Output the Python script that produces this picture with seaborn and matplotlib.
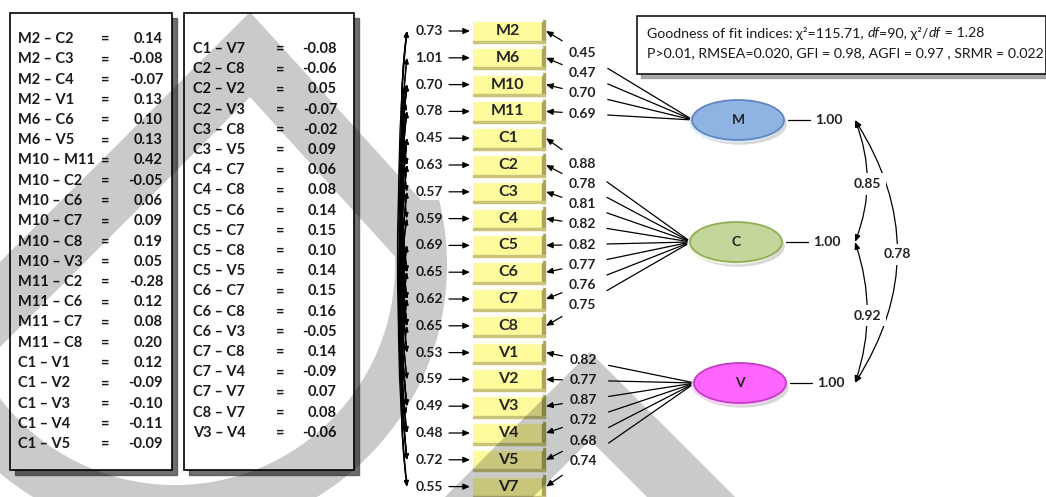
import numpy as np
import pandas as pd
import matplotlib
matplotlib.use("Agg")
import matplotlib.pyplot as plt
import seaborn as sns
from matplotlib.patches import Rectangle, Ellipse, FancyArrowPatch

# indicadores (de cima para baixo)
items = ['M2', 'M6', 'M10', 'M11', 'C1', 'C2', 'C3', 'C4', 'C5', 'C6', 'C7', 'C8',
         'V1', 'V2', 'V3', 'V4', 'V5', 'V7']
error_var = [0.73, 1.01, 0.70, 0.78, 0.45, 0.63, 0.57, 0.59, 0.69, 0.65, 0.62, 0.65,
             0.53, 0.59, 0.49, 0.48, 0.72, 0.55]
loadings = [0.45, 0.47, 0.70, 0.69, 0.88, 0.78, 0.81, 0.82, 0.82, 0.77, 0.76, 0.75,
            0.82, 0.77, 0.87, 0.72, 0.68, 0.74]

factors = ['M', 'C', 'V']
factor_var = [1.00, 1.00, 1.00]
factor_corr_pairs = [('M', 'C'), ('C', 'V'), ('M', 'V')]
factor_corr = [0.85, 0.92, 0.78]

# covariancias entre erros
cov1_pairs = [('M2', 'C2'), ('M2', 'C3'), ('M2', 'C4'), ('M2', 'V1'), ('M6', 'C6'),
              ('M6', 'V5'), ('M10', 'M11'), ('M10', 'C2'), ('M10', 'C6'), ('M10', 'C7'),
              ('M10', 'C8'), ('M10', 'V3'), ('M11', 'C2'), ('M11', 'C6'), ('M11', 'C7'),
              ('M11', 'C8'), ('C1', 'V1'), ('C1', 'V2'), ('C1', 'V3'), ('C1', 'V4'),
              ('C1', 'V5')]
cov1_vals = [0.14, -0.08, -0.07, 0.13, 0.10, 0.13, 0.42, -0.05, 0.06, 0.09, 0.19, 0.05,
             -0.28, 0.12, 0.08, 0.20, 0.12, -0.09, -0.10, -0.11, -0.09]
cov2_pairs = [('C1', 'V7'), ('C2', 'C8'), ('C2', 'V2'), ('C2', 'V3'), ('C3', 'C8'),
              ('C3', 'V5'), ('C4', 'C7'), ('C4', 'C8'), ('C5', 'C6'), ('C5', 'C7'),
              ('C5', 'C8'), ('C5', 'V5'), ('C6', 'C7'), ('C6', 'C8'), ('C6', 'V3'),
              ('C7', 'C8'), ('C7', 'V4'), ('C7', 'V7'), ('C8', 'V7'), ('V3', 'V4')]
cov2_vals = [-0.08, -0.06, 0.05, -0.07, -0.02, 0.09, 0.06, 0.08, 0.14, 0.15, 0.10, 0.14,
             0.15, 0.16, -0.05, 0.14, -0.09, 0.07, 0.08, -0.06]

fit_line1 = [('Goodness of fit indices: χ²=115.71, ', 'normal'), ('df', 'italic'),
             ('=90, χ²/', 'normal'), ('df', 'italic'), (' = 1.28', 'normal')]
fit_line2 = 'P>0.01, RMSEA=0.020, GFI = 0.98, AGFI = 0.97 , SRMR = 0.022'

W, H = 1046, 497
FONT = ['Lato', 'DejaVu Sans']
Y0, DY = 31, 26.8
BOX_X0, BOX_X1 = 473, 545
factor_pos = {'M': (738, 120), 'C': (736, 242), 'V': (740, 383)}
factor_col = {'M': ('#8fb4e3', '#5f86bf', '#dcecf8'),
              'C': ('#c3d69b', '#93ad55', '#f0f5e2'),
              'V': ('#ff66ff', '#c43cc4', '#f9d2f9')}
ELL_W, ELL_H = 92, 40


def item_y(name):
    return Y0 + DY * items.index(name)


def fmt(v):
    return '{:.2f}'.format(v)


def _tabela(ax, x0, x1, y_first, dy, pairs, vals, xl, xeq, xv):
    ax.add_patch(Rectangle((x0 + 5, 18), x1 - x0, 457, color='#555555', alpha=0.85, zorder=1))
    ax.add_patch(Rectangle((x0, 13), x1 - x0, 457, facecolor='white', edgecolor='black', lw=1.2, zorder=2))
    for i, ((a, b), v) in enumerate(zip(pairs, vals)):
        y = y_first + dy * i
        kw = dict(fontsize=10.5, fontweight='bold', family=FONT, va='center', zorder=3, color='#1a1a1a')
        ax.text(xl, y, a + ' – ' + b, ha='left', **kw)
        ax.text(xeq, y, '=', ha='center', **kw)
        ax.text(xv, y, fmt(v), ha='right', **kw)


def _caixas_itens(ax):
    for i, name in enumerate(items):
        y = Y0 + DY * i
        top = y - 11.5
        ax.add_patch(Rectangle((BOX_X0, top), BOX_X1 - BOX_X0, 23, facecolor='#fdfb9c', edgecolor='none', zorder=3))
        ax.add_patch(Rectangle((BOX_X1 - 3, top), 3, 23, color='#aaa55a', zorder=4))
        ax.add_patch(Rectangle((BOX_X0, top + 21), BOX_X1 - BOX_X0, 2, color='#c9c47a', zorder=4))
        ax.add_patch(Rectangle((BOX_X0, top), BOX_X1 - BOX_X0 - 3, 1.5, color='#fffff0', zorder=4))
        ax.text((BOX_X0 + BOX_X1) / 2 - 1, y, name, ha='center', va='center', fontsize=11.5,
                fontweight='bold', family=FONT, zorder=5)
        # erro
        ax.text(429, y, fmt(error_var[i]), ha='center', va='center', fontsize=10,
                fontweight='bold', family=FONT, color='#222222', zorder=5)
        ax.add_patch(FancyArrowPatch((449, y), (470, y), arrowstyle='-|>,head_length=0.5,head_width=0.22',
                                     mutation_scale=8, lw=0.9, color='black', shrinkA=0, shrinkB=0, zorder=5))


def _cargas(ax):
    rows = []
    for i, name in enumerate(items):
        fx, fy = factor_pos[name[0]]
        ex, ey = fx - ELL_W / 2 + 1, fy
        bx, by = BOX_X1 + 1, Y0 + DY * i
        p = lambda t: (bx + t * (ex - bx), by + t * (ey - by))
        rows.append((name, *p(0.42)))
        rows.append((name, ex, ey))
        lx, ly = p(0.25)
        ax.text(lx, ly, fmt(loadings[i]), ha='center', va='center', fontsize=10,
                fontweight='bold', family=FONT, color='#222222', zorder=5)
        ax.add_patch(FancyArrowPatch(p(0.11), p(0.0), arrowstyle='-|>,head_length=0.5,head_width=0.22',
                                     mutation_scale=8, lw=0.9, color='black', shrinkA=0, shrinkB=0, zorder=5))
    df = pd.DataFrame(rows, columns=['item', 'x', 'y'])
    sns.lineplot(data=df, x='x', y='y', units='item', estimator=None, sort=False,
                 color='black', linewidth=0.9, ax=ax, legend=False, zorder=5)


def _fatores(ax):
    for f, v in zip(factors, factor_var):
        x, y = factor_pos[f]
        face, edge, rim = factor_col[f]
        ax.add_patch(Ellipse((x + 2, y + 4), ELL_W, ELL_H, color='#d8d8d8', zorder=4))
        ax.add_patch(Ellipse((x - 2, y + 2), ELL_W, ELL_H, color=rim, zorder=5))
        ax.add_patch(Ellipse((x, y), ELL_W, ELL_H, facecolor=face, edgecolor=edge, lw=1.3, zorder=6))
        ax.text(x, y, f, ha='center', va='center', fontsize=10, fontweight='bold',
                family=FONT, color='#222222', zorder=7)
        xr = x + ELL_W / 2
        ax.plot([xr + 4, xr + 26], [y, y], color='black', lw=0.9, zorder=6)
        ax.text(xr + 45, y, fmt(v), ha='center', va='center', fontsize=10, fontweight='bold',
                family=FONT, color='#222222', zorder=7)


def _correlacoes(ax):
    bulge = {('M', 'C'): 12, ('C', 'V'): 12, ('M', 'V'): 42}
    for (a, b), r in zip(factor_corr_pairs, factor_corr):
        ya, yb = factor_pos[a][1], factor_pos[b][1]
        x = 855
        dist = abs(yb - ya)
        bb = bulge[(a, b)]
        ax.add_patch(FancyArrowPatch((x, ya), (x, yb), connectionstyle='arc3,rad=%f' % (-2 * bb / dist),
                                     arrowstyle='<|-|>,head_length=0.5,head_width=0.2', mutation_scale=8,
                                     lw=0.9, color='black', shrinkA=0, shrinkB=0, zorder=6))
        ax.text(x + bb, (ya + yb) / 2 + 3, fmt(r), ha='center', va='center', fontsize=10,
                fontweight='bold', family=FONT, color='#222222', zorder=7,
                bbox=dict(boxstyle='square,pad=0.35', fc='white', ec='none'))


def _covariancias(ax):
    x = 407
    for a, b in cov1_pairs + cov2_pairs:
        ya, yb = sorted([item_y(a), item_y(b)])
        dist = yb - ya
        off = 5 + 0.035 * dist
        ax.add_patch(FancyArrowPatch((x, ya), (x, yb), connectionstyle='arc3,rad=%f' % (off / dist),
                                     arrowstyle='<|-|>,head_length=0.45,head_width=0.18', mutation_scale=7,
                                     lw=0.9, color='black', shrinkA=0, shrinkB=0, zorder=5))


def _largura(ax, s, **kw):
    r = ax.figure.canvas.get_renderer()
    t1 = ax.text(0, 0, s + '|', **kw)
    t2 = ax.text(0, 0, '|', **kw)
    w = t1.get_window_extent(renderer=r).width - t2.get_window_extent(renderer=r).width
    t1.remove(); t2.remove()
    return w


def _ajuste(ax):
    ax.add_patch(Rectangle((641, 20), 409, 58, color='#888888', alpha=0.7, zorder=1))
    ax.add_patch(Rectangle((637, 16), 409, 58, facecolor='white', edgecolor='black', lw=1.1, zorder=2))
    x = 647
    for s, st in fit_line1:
        kw = dict(fontsize=10.2, style=st, family=FONT, color='#1a1a1a', va='center', ha='left', zorder=3)
        ax.text(x, 33, s, **kw)
        x += _largura(ax, s, **kw)
    ax.text(647, 53, fit_line2, fontsize=10.2, family=FONT, color='#1a1a1a', va='center', ha='left', zorder=3)


def _marca_dagua(ax):
    s = 3
    xs = (np.arange(W * s) + 0.5) / s
    ys = (np.arange(H * s) + 0.5) / s
    X, Y = np.meshgrid(xs, ys)
    r = np.hypot(X - 175, Y - 265)
    ring = (r >= 220) & (r <= 272) & (Y > 200)
    d = X - 250
    lado = np.where(d < 0, -d, 1.1 * d)
    chev1 = (Y >= 12 + lado) & (Y <= 97 + lado) & (r <= 272)
    d2 = np.abs(X - 590)
    chev2 = (Y >= 352 + d2) & (Y <= 440 + d2)
    cov = (ring | chev1 | chev2).reshape(H, s, W, s).mean(axis=(1, 3))
    rgba = np.zeros((H, W, 4))
    rgba[..., 3] = 0.21 * cov
    ax.imshow(rgba, extent=(0, W, H, 0), zorder=50, interpolation='bilinear', aspect='auto')


sns.set_theme(style='white')
plt.rcParams['font.family'] = FONT
fig = plt.figure(figsize=(W / 100, H / 100), dpi=100)
ax = fig.add_axes([0, 0, 1, 1])
ax.set_xlim(0, W)
ax.set_ylim(H, 0)

_tabela(ax, 10, 172, 39, 20.25, cov1_pairs, cov1_vals, 18, 105, 163)
_tabela(ax, 184, 354, 49, 20.2, cov2_pairs, cov2_vals, 193, 280, 337)
_caixas_itens(ax)
_cargas(ax)
_fatores(ax)
_correlacoes(ax)
_covariancias(ax)
_ajuste(ax)
_marca_dagua(ax)

ax.set_xlim(0, W)
ax.set_ylim(H, 0)
ax.axis('off')
fig.savefig('out.png', dpi=100)
